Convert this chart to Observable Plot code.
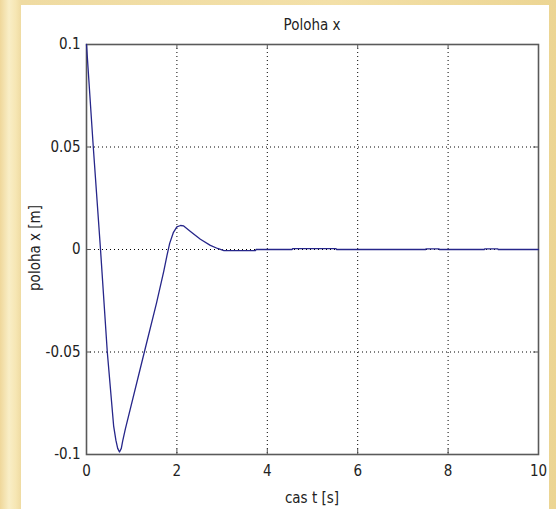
<!DOCTYPE html>
<html>
<head>
<meta charset="utf-8">
<script src="https://cdn.jsdelivr.net/npm/d3@7"></script>
<script src="https://cdn.jsdelivr.net/npm/@observablehq/plot@0.6"></script>
<style>
  html, body { margin: 0; padding: 0; }
  body {
    width: 556px; height: 509px; overflow: hidden; position: relative;
    background: linear-gradient(to right, #efd79a 0px, #f9eec6 9px, #f6e6b3 16px, #efdba2 21px, #f3e0a8 60%, #ecd593 100%);
    font-family: "DejaVu Sans Condensed", "Liberation Sans", sans-serif;
  }
  #panel { position: absolute; left: 21px; top: 5px; width: 528px; height: 504px; background: #fff; }
  #panel svg { position: absolute; left: 0; top: 0; }
  .lbl { position: absolute; color: #222; font-size: 15px; white-space: nowrap; }
  #title { left: 291px; top: 11px; transform: translateX(-50%); }
  #xlabel { left: 291px; top: 484px; transform: translateX(-50%); }
  #ylabel { left: 14px; top: 243px; transform: translate(-50%, -50%) rotate(-90deg); }
</style>
</head>
<body>
<div id="panel">
  <div id="title" class="lbl">Poloha x</div>
  <div id="xlabel" class="lbl">cas t [s]</div>
  <div id="ylabel" class="lbl">poloha x [m]</div>
</div>
<script>
// time [s]
const timeS = [0, 0.15, 0.31, 0.46, 0.60, 0.65, 0.69, 0.73, 0.77, 0.80, 0.86, 1.28, 1.55, 1.71, 1.78, 1.84, 1.92, 2.0, 2.08, 2.15, 2.3, 2.52, 2.74, 2.9, 3.04, 3.74, 3.75, 4.55, 4.56, 5.52, 5.53, 7.5, 7.51, 7.8, 7.81, 8.8, 8.81, 9.1, 9.11, 10];
// position x [m]
const positionM = [0.1, 0.05, 0, -0.05, -0.086, -0.093, -0.097, -0.0988, -0.097, -0.0935, -0.0875, -0.05, -0.026, -0.0105, -0.003, 0.003, 0.0082, 0.011, 0.0117, 0.0115, 0.0088, 0.005, 0.002, 0.0005, -0.0005, -0.0005, 0, 0, 0.0004, 0.0004, 0, 0, 0.0003, 0.0003, 0, 0, 0.0003, 0.0003, 0, 0];
const xTicks = [0, 2, 4, 6, 8, 10];
const yTicks = [-0.1, -0.05, 0, 0.05, 0.1];
const xGrid = [2, 4, 6, 8];
const yGrid = [-0.05, 0, 0.05];

const data = timeS.map((t, i) => ({t, x: positionM[i]}));

const W = 528, H = 504;
const mL = 65, mR = 11, mT = 39, mB = 55;
const innerH = H - mT - mB, innerW = W - mL - mR;
const tickLen = 5;

const chart = Plot.plot({
  width: W, height: H,
  marginLeft: mL, marginRight: mR, marginTop: mT, marginBottom: mB,
  style: {fontSize: "15px", fontFamily: "'DejaVu Sans Condensed', 'Liberation Sans', sans-serif", color: "#222", background: "transparent"},
  x: {domain: [0, 10]},
  y: {domain: [-0.1, 0.1]},
  marks: [
    Plot.gridX(xGrid, {stroke: "#000", strokeOpacity: 1, strokeWidth: 1, strokeDasharray: "1,3"}),
    Plot.gridY(yGrid, {stroke: "#000", strokeOpacity: 1, strokeWidth: 1, strokeDasharray: "1,3"}),
    Plot.tickX(xTicks, {x: d => d, insetTop: innerH - tickLen, stroke: "#555"}),
    Plot.tickX(xTicks, {x: d => d, insetBottom: innerH - tickLen, stroke: "#555"}),
    Plot.tickY(yTicks, {y: d => d, insetRight: innerW - tickLen, stroke: "#555"}),
    Plot.tickY(yTicks, {y: d => d, insetLeft: innerW - tickLen, stroke: "#555"}),
    Plot.frame({stroke: "#5a5a5a", strokeWidth: 1.6}),
    Plot.line(data, {x: "t", y: "x", stroke: "#26268a", strokeWidth: 1.3}),
    Plot.axisX({ticks: xTicks, tickSize: 0, tickPadding: 11, tickFormat: d => String(d), label: null}),
    Plot.axisY({ticks: yTicks, tickSize: 0, tickPadding: 6, tickFormat: d => String(d), label: null})
  ]
});
document.getElementById("panel").prepend(chart);
</script>
</body>
</html>
